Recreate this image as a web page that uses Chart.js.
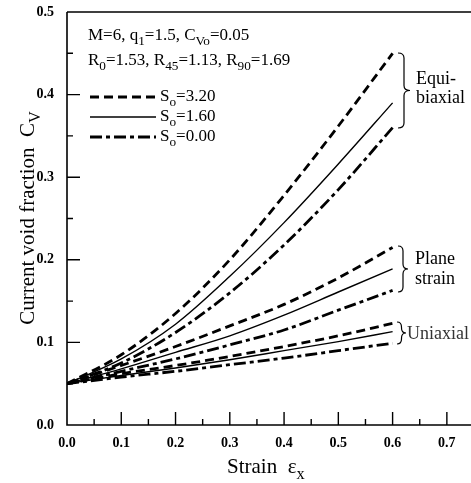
<!DOCTYPE html>
<html>
<head>
<meta charset="utf-8">
<script src="https://cdn.jsdelivr.net/npm/chart.js@4/dist/chart.umd.min.js"></script>
<style>
  html, body { margin: 0; padding: 0; background: #fff; overflow: hidden; }
  #wrap { width: 475px; height: 483px; }
</style>
</head>
<body>
<div id="wrap"><canvas id="mycanvas"></canvas></div>
<script>
// strain values (x) and void fraction curves
var strain = [0.0, 0.1, 0.2, 0.3, 0.4, 0.5, 0.6];

var equiS320 = [0.05, 0.085, 0.135, 0.200, 0.278, 0.362, 0.45];
var equiS160 = [0.05, 0.080, 0.122, 0.180, 0.245, 0.316, 0.39];
var equiS000 = [0.05, 0.075, 0.112, 0.160, 0.218, 0.285, 0.36];

var planeS320 = [0.05, 0.072, 0.095, 0.120, 0.146, 0.178, 0.215];
var planeS160 = [0.05, 0.068, 0.088, 0.108, 0.133, 0.161, 0.189];
var planeS000 = [0.05, 0.065, 0.080, 0.097, 0.115, 0.139, 0.163];

var uniS320 = [0.05, 0.062, 0.072, 0.083, 0.095, 0.108, 0.123];
var uniS160 = [0.05, 0.060, 0.069, 0.079, 0.090, 0.101, 0.113];
var uniS000 = [0.05, 0.058, 0.065, 0.073, 0.081, 0.090, 0.099];

var xTicks = [0.0, 0.1, 0.2, 0.3, 0.4, 0.5, 0.6, 0.7];
var yTicks = [0.0, 0.1, 0.2, 0.3, 0.4, 0.5];

var SERIF = "'Liberation Serif', 'DejaVu Serif', serif";
var DASH = [9, 5];
var DASHDOT = [12, 4, 4, 4];

function pts(ys) {
	var out = [];
	for (var i in strain) out.push({x: strain[i], y: ys[i]});
	return out;
}

function ds(ys, style) {
	var d = {
		data: pts(ys),
		borderColor: "#000",
		backgroundColor: "#000",
		pointRadius: 0,
		fill: false,
		cubicInterpolationMode: "monotone",
		borderWidth: 2.8,
		borderDash: []
	};
	if (style == "dash") d.borderDash = DASH;
	if (style == "dashdot") d.borderDash = DASHDOT;
	if (style == "solid") d.borderWidth = 1.4;
	return d;
}

// text made of [string, isSubscript] pieces
function richWidth(ctx, parts, size) {
	var w = 0;
	for (var i = 0; i < parts.length; i++) {
		ctx.font = (parts[i][1] ? size * 0.78 : size) + "px " + SERIF;
		w += ctx.measureText(parts[i][0]).width;
	}
	return w;
}
function richText(ctx, parts, x, y, size) {
	for (var i = 0; i < parts.length; i++) {
		var sub = parts[i][1];
		ctx.font = (sub ? size * 0.78 : size) + "px " + SERIF;
		ctx.fillText(parts[i][0], x, y + (sub ? size * 0.28 : 0));
		x += ctx.measureText(parts[i][0]).width;
	}
	return x;
}

function brace(ctx, x, y1, y2, w) {
	var ym = (y1 + y2) / 2;
	ctx.beginPath();
	ctx.moveTo(x, y1);
	ctx.quadraticCurveTo(x + w * 0.5, y1, x + w * 0.5, y1 + 5);
	ctx.lineTo(x + w * 0.5, ym - 5);
	ctx.quadraticCurveTo(x + w * 0.5, ym, x + w, ym);
	ctx.quadraticCurveTo(x + w * 0.5, ym, x + w * 0.5, ym + 5);
	ctx.lineTo(x + w * 0.5, y2 - 5);
	ctx.quadraticCurveTo(x + w * 0.5, y2, x, y2);
	ctx.stroke();
}

// no automatic label overflow padding, the area is set by hand
function fixPad(s) {
	s.paddingTop = 0; s.paddingBottom = 0;
	s.paddingLeft = 0; s.paddingRight = 0;
}

var decor = {
	id: "decor",
	afterDraw: function(chart) {
		var ctx = chart.ctx;
		var a = chart.chartArea;
		var xs = chart.scales.x, ys = chart.scales.y;
		ctx.save();
		ctx.strokeStyle = "#000";
		ctx.fillStyle = "#000";
		ctx.lineWidth = 1.6;
		// frame
		ctx.beginPath();
		ctx.moveTo(a.left, a.top); ctx.lineTo(a.right, a.top);
		ctx.moveTo(a.left, a.top); ctx.lineTo(a.left, a.bottom);
		ctx.lineTo(a.right, a.bottom);
		ctx.stroke();
		// inward ticks, major every 0.1, minor every 0.05
		ctx.lineWidth = 1.4;
		ctx.beginPath();
		for (var k = 1; k <= 15; k++) {
			var v = k * 0.05;
			var len = (k % 2 == 0) ? 13 : 6;
			var px = xs.getPixelForValue(v);
			ctx.moveTo(px, a.bottom); ctx.lineTo(px, a.bottom - len);
			if (k < 10) {
				var py = ys.getPixelForValue(v);
				ctx.moveTo(a.left, py); ctx.lineTo(a.left + len, py);
			}
		}
		ctx.stroke();

		// axis titles
		ctx.textBaseline = "alphabetic";
		ctx.textAlign = "left";
		richText(ctx, [["Strain  \u03b5", false], ["x", true]], 227, 473, 21);
		var yt = [["Current void fraction  C", false], ["V", true]];
		ctx.save();
		ctx.translate(34, 218);
		ctx.rotate(-Math.PI / 2);
		richText(ctx, yt, -richWidth(ctx, yt, 21) / 2, 0, 21);
		ctx.restore();

		// parameter block
		richText(ctx, [["M=6, q", false], ["1", true], ["=1.5, C", false], ["Vo", true], ["=0.05", false]], 88, 40, 17);
		richText(ctx, [["R", false], ["0", true], ["=1.53, R", false], ["45", true], ["=1.13, R", false], ["90", true], ["=1.69", false]], 88, 65, 17);

		// legend
		var leg = [[DASH, 2.8, "3.20"], [[], 1.4, "1.60"], [DASHDOT, 2.8, "0.00"]];
		for (var i = 0; i < leg.length; i++) {
			var ly = 97 + i * 20;
			ctx.setLineDash(leg[i][0]);
			ctx.lineWidth = leg[i][1];
			ctx.beginPath(); ctx.moveTo(90, ly); ctx.lineTo(156, ly); ctx.stroke();
			ctx.setLineDash([]);
			richText(ctx, [["S", false], ["o", true], ["=" + leg[i][2], false]], 160, ly + 4, 17);
		}

		// group braces and labels
		ctx.lineWidth = 1.2;
		brace(ctx, 398, 53, 128, 12);
		brace(ctx, 398, 246, 292, 10);
		brace(ctx, 397, 322, 344, 9);
		ctx.font = "18px " + SERIF;
		ctx.fillText("Equi-", 416, 84);
		ctx.fillText("biaxial", 416, 103);
		ctx.fillText("Plane", 415, 264);
		ctx.fillText("strain", 415, 284);
		ctx.fillStyle = "#333";
		ctx.fillText("Uniaxial", 407, 339);
		ctx.restore();
	}
};

var chartdata = {
	datasets: [
		ds(equiS320, "dash"), ds(equiS160, "solid"), ds(equiS000, "dashdot"),
		ds(planeS320, "dash"), ds(planeS160, "solid"), ds(planeS000, "dashdot"),
		ds(uniS320, "dash"), ds(uniS160, "solid"), ds(uniS000, "dashdot")
	]
};

var ctx = document.getElementById("mycanvas");

var lineGraph = new Chart(ctx, {
	type: "line",
	data: chartdata,
	plugins: [decor],
	options: {
		responsive: true,
		maintainAspectRatio: false,
		animation: false,
		events: [],
		layout: { padding: { top: 12, right: 1, left: 0, bottom: 0 } },
		plugins: { legend: { display: false }, tooltip: { enabled: false } },
		scales: {
			x: {
				type: "linear",
				min: 0, max: 0.75,
				afterFit: function(s) { s.height = 58; fixPad(s); },
				afterBuildTicks: function(s) { s.ticks = xTicks.map(function(v) { return {value: v}; }); },
				grid: { display: false, drawTicks: false },
				border: { display: false },
				ticks: {
					padding: 10,
					color: "#000",
					font: { family: SERIF, size: 14, weight: "bold" },
					callback: function(v) { return v.toFixed(1); }
				}
			},
			y: {
				type: "linear",
				min: 0, max: 0.5,
				afterFit: function(s) { s.width = 67; fixPad(s); },
				afterBuildTicks: function(s) { s.ticks = yTicks.map(function(v) { return {value: v}; }); },
				grid: { display: false, drawTicks: false },
				border: { display: false },
				ticks: {
					padding: 13,
					color: "#000",
					font: { family: SERIF, size: 14, weight: "bold" },
					callback: function(v) { return v.toFixed(1); }
				}
			}
		}
	}
});
</script>
</body>
</html>
